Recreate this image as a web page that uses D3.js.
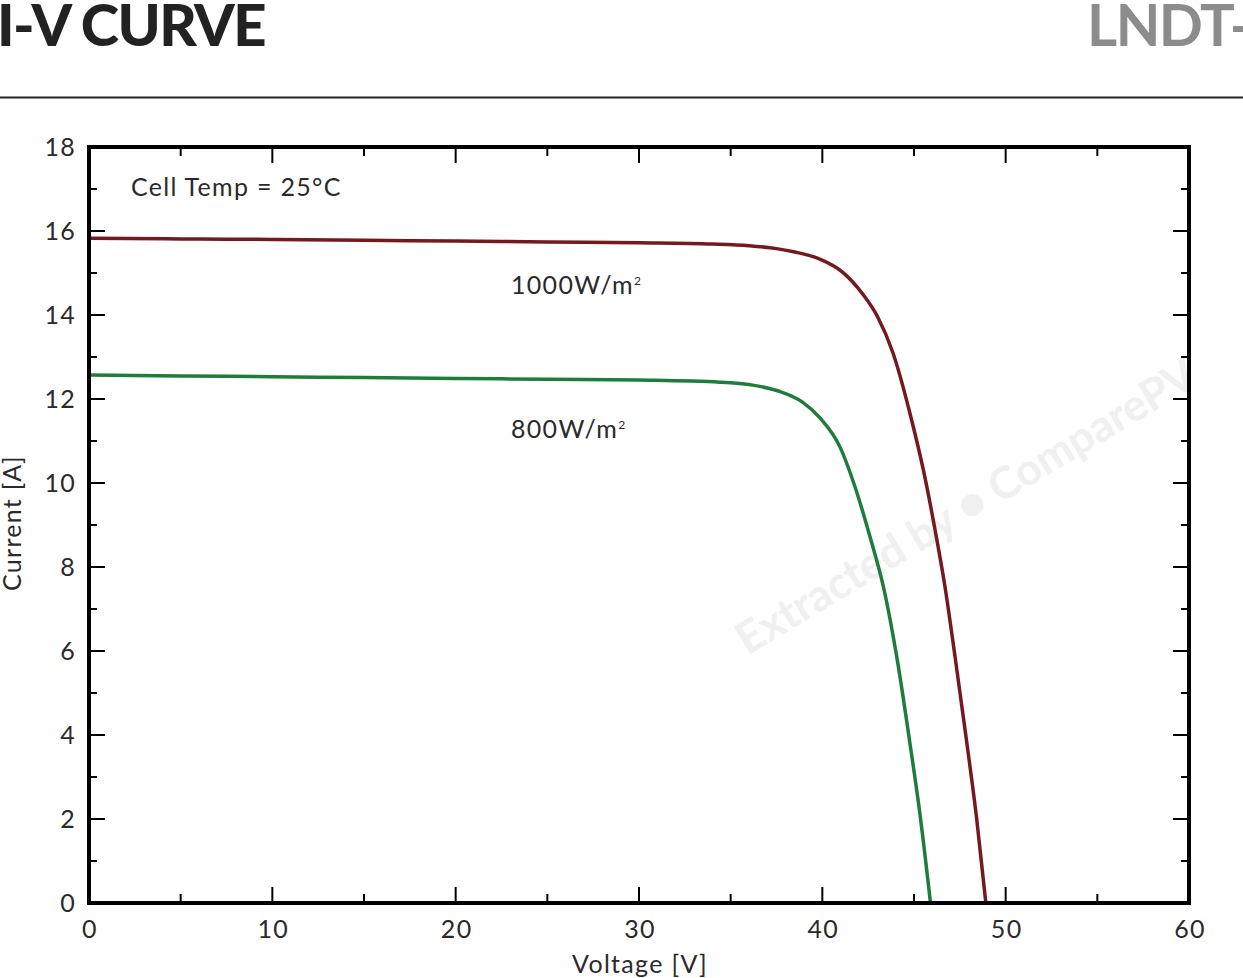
<!DOCTYPE html>
<html>
<head>
<meta charset="utf-8">
<script src="https://cdn.jsdelivr.net/npm/d3@7"></script>
<style>
  body { margin: 0; background: #fff; overflow: hidden; }
  text { font-family: Lato, "Open Sans", sans-serif; }
</style>
</head>
<body>
<svg id="chart-svg" width="1243" height="978"></svg>
<script>
// Curve readings (voltage V, current A)
const voltage1000 = [0, 5, 10, 15, 20, 25, 30, 34, 36, 37.5, 38.5, 39.8, 41.1, 42.2, 43.0, 43.85, 44.87, 45.51, 46.15, 46.69, 47.24, 47.87, 48.42, 48.92];
const current1000 = [15.83, 15.81, 15.8, 15.78, 15.76, 15.74, 15.72, 15.69, 15.65, 15.58, 15.5, 15.34, 15.02, 14.5, 13.97, 13.1, 11.5, 10.31, 8.88, 7.53, 5.86, 3.85, 2.0, 0];

const voltage800 = [0, 5, 10, 15, 20, 25, 30, 34.4, 36.2, 37.6, 38.9, 39.87, 40.96, 41.78, 42.6, 43.33, 44.06, 44.78, 45.33, 45.9];
const current800 = [12.57, 12.55, 12.53, 12.51, 12.49, 12.47, 12.45, 12.4, 12.33, 12.19, 11.93, 11.55, 10.86, 9.91, 8.72, 7.53, 5.86, 3.8, 2.1, 0];

const xTicks = [0, 10, 20, 30, 40, 50, 60];
const yTicks = [0, 2, 4, 6, 8, 10, 12, 14, 16, 18];

const svg = d3.select('#chart-svg');

const plotLeft = 89, plotRight = 1189, plotTop = 147, plotBottom = 903;

let xScale = d3.scaleLinear().domain([0, 60]).range([plotLeft, plotRight]);
let yScale = d3.scaleLinear().domain([0, 18]).range([plotBottom, plotTop]);

// header
svg.append('text').attr('x', -3).attr('y', 46)
    .text('I-V CURVE')
    .style('font-size', '58px').style('font-weight', 900).style('fill', '#222')
    .style('letter-spacing', '-1.5px');

svg.append('text').attr('x', 1087).attr('y', 46)
    .text('LNDT-')
    .style('font-size', '58px').style('font-weight', 700).style('fill', '#8c8c8c')
    .style('letter-spacing', '-1.5px');

svg.append('line').attr('x1', 0).attr('x2', 1243).attr('y1', 97.5).attr('y2', 97.5)
    .attr('stroke', '#222').attr('stroke-width', 2);

// watermark
svg.append('text')
    .attr('transform', 'translate(968,510) rotate(-31)')
    .attr('text-anchor', 'middle').attr('dominant-baseline', 'middle')
    .text('Extracted by \u25CF ComparePV')
    .style('font-size', '44px').style('font-weight', 700).style('fill', '#f0f0f0');

// ticks, all four sides, pointing inward
const g = svg.append('g');
const minorX = d3.range(5, 60, 10);
const minorY = d3.range(1, 18, 2);

function tick(x1, y1, x2, y2) {
    g.append('line').attr('x1', x1).attr('y1', y1).attr('x2', x2).attr('y2', y2)
        .attr('stroke', '#000').attr('stroke-width', 2);
}
xTicks.forEach(v => { tick(xScale(v), plotBottom, xScale(v), plotBottom - 16); tick(xScale(v), plotTop, xScale(v), plotTop + 16); });
minorX.forEach(v => { tick(xScale(v), plotBottom, xScale(v), plotBottom - 9); tick(xScale(v), plotTop, xScale(v), plotTop + 9); });
yTicks.forEach(v => { tick(plotLeft, yScale(v), plotLeft + 16, yScale(v)); tick(plotRight, yScale(v), plotRight - 16, yScale(v)); });
minorY.forEach(v => { tick(plotLeft, yScale(v), plotLeft + 8, yScale(v)); tick(plotRight, yScale(v), plotRight - 8, yScale(v)); });

const labelStyle = t => t.style('font-size', '25px').style('letter-spacing', '1.3px').style('fill', '#2a2a2a');

// tick labels
svg.append('g').selectAll('text').data(xTicks).enter().append('text')
    .attr('x', d => xScale(d) + 1).attr('y', 938)
    .attr('text-anchor', 'middle')
    .text(d => d)
    .call(labelStyle);

svg.append('g').selectAll('text').data(yTicks).enter().append('text')
    .attr('x', 76).attr('y', d => yScale(d) + 9)
    .attr('text-anchor', 'end')
    .text(d => d)
    .call(labelStyle);

svg.append('text').attr('x', 640).attr('y', 973).attr('text-anchor', 'middle')
    .text('Voltage [V]').call(labelStyle);

svg.append('text').attr('transform', 'translate(21,523) rotate(-90)').attr('text-anchor', 'middle')
    .text('Current [A]').call(labelStyle);

// curves
let lineGenerator = d3.line()
    .x(d => xScale(d[0]))
    .y(d => yScale(d[1]))
    .curve(d3.curveMonotoneX);

const series = [
    { v: voltage1000, i: current1000, color: '#741a1e' },
    { v: voltage800, i: current800, color: '#1f7d3c' }
];

series.forEach(s => {
    svg.append('path')
        .attr('d', lineGenerator(s.v.map((v, k) => [v, s.i[k]])))
        .attr('fill', 'none')
        .attr('stroke', s.color)
        .attr('stroke-width', 3.5);
});

// annotations
svg.append('text').attr('x', 131).attr('y', 196)
    .text('Cell Temp = 25°C').call(labelStyle);

function irradianceLabel(x, y, value) {
    let t = svg.append('text').attr('x', x).attr('y', y).call(labelStyle);
    t.append('tspan').text(value + 'W/m');
    t.append('tspan').attr('dy', -9).style('font-size', '12px').style('letter-spacing', '0px').text('2');
}
irradianceLabel(511, 294, 1000);
irradianceLabel(511, 438, 800);

// frame
svg.append('rect').attr('x', plotLeft).attr('y', plotTop)
    .attr('width', plotRight - plotLeft).attr('height', plotBottom - plotTop)
    .attr('fill', 'none').attr('stroke', '#000').attr('stroke-width', 4);
</script>
</body>
</html>
